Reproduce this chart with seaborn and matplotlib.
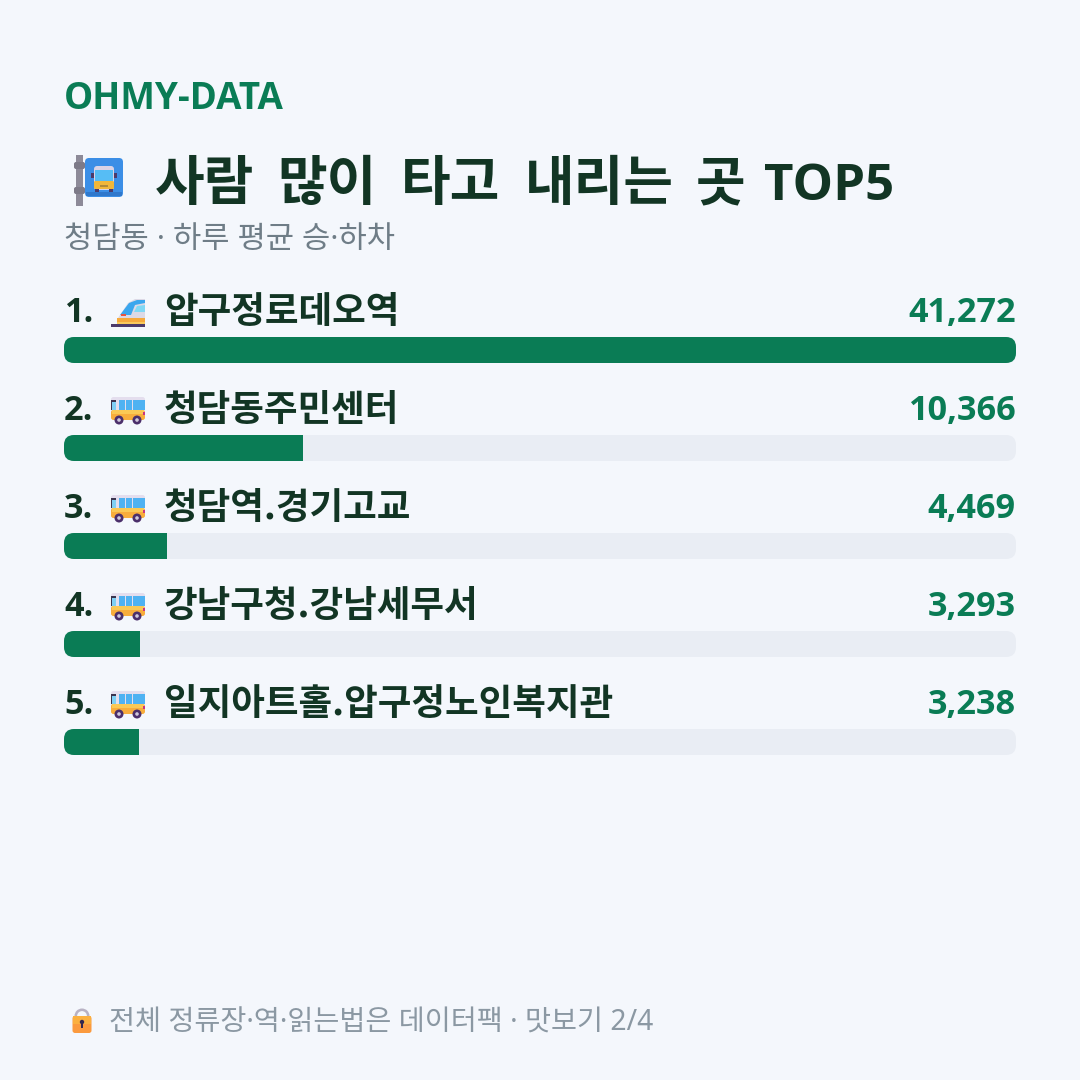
import matplotlib
matplotlib.use("Agg")
import matplotlib.pyplot as plt
from matplotlib.patches import FancyBboxPatch, Rectangle, Circle, Polygon, Wedge
import pandas as pd
import seaborn as sns

# Daily boardings and alightings per stop
ranks = ["1.", "2.", "3.", "4.", "5."]
stops = ["압구정로데오역", "청담동주민센터", "청담역.경기고교", "강남구청.강남세무서", "일지아트홀.압구정노인복지관"]
riders = [41272, 10366, 4469, 3293, 3238]
modes = ["train", "bus", "bus", "bus", "bus"]

brand = "OHMY-DATA"
title_words = ["사람", "많이", "타고", "내리는", "곳"]
title_tail = "TOP5"
subtitle = "청담동 · 하루 평균 승·하차"
footer = "전체 정류장·역·읽는법은 데이터팩 · 맛보기 2/4"

BG = "#f4f7fc"
GREEN = "#0a7c55"
DARK = "#123524"
GREY = "#6f7d87"
FOOT = "#8b98a3"
TRACK = "#e9edf4"

sns.set_theme(style="white")
plt.rcParams["font.family"] = ["Noto Sans", "Noto Sans CJK KR", "DejaVu Sans"]
HANGUL_BOLD = {"family": "Noto Sans CJK KR", "fontweight": "bold"}
LATIN_BOLD = {"family": "Open Sans", "fontweight": "bold"}

fig = plt.figure(figsize=(10.8, 10.8), dpi=100, facecolor=BG)

# Full-figure layer in pixel units for text, tracks and icons
canvas = fig.add_axes([0, 0, 1, 1], zorder=1)
canvas.set_xlim(0, 1080)
canvas.set_ylim(1080, 0)
canvas.axis("off")


def px(size):
    return size * 0.72


def box(x, y, w, h, r, color, z=3):
    p = FancyBboxPatch((x, y), w, h, boxstyle=f"round,pad=0,rounding_size={r}",
                       fc=color, ec="none", zorder=z)
    canvas.add_patch(p)
    return p


def rect(x, y, w, h, color, z=3):
    canvas.add_patch(Rectangle((x, y), w, h, fc=color, ec="none", zorder=z))


def disc(x, y, r, color, z=4):
    canvas.add_patch(Circle((x, y), r, fc=color, ec="none", zorder=z))


def stop_sign(x, y):
    # Pole with collars and a blue sign carrying a front-view bus
    rect(x + 2, y, 7, 51, "#8d8a98")
    box(x, y + 7, 11, 7, 2, "#7d7a88")
    box(x, y + 32, 11, 7, 2, "#7d7a88")
    box(x + 11, y + 3, 38, 39, 4, "#3b8ee6")
    rect(x + 12, y + 37, 36, 4, "#2f78cc", z=3)
    box(x + 20, y + 11, 20, 24, 3, "#d9d3e6", z=4)
    rect(x + 21, y + 15, 18, 11, "#56bdf5", z=5)
    box(x + 20, y + 26, 20, 8, 1.5, "#f0b73b", z=5)
    rect(x + 26, y + 30, 8, 2, "#b08a3a", z=6)
    rect(x + 21, y + 34, 4, 3, "#4b3a6b", z=4)
    rect(x + 35, y + 34, 4, 3, "#4b3a6b", z=4)
    rect(x + 17, y + 18, 3, 5, "#4b3a6b", z=4)
    rect(x + 40, y + 18, 3, 5, "#4b3a6b", z=4)


def train_icon(x, y):
    # Side view of a bullet train running to the right edge
    canvas.add_patch(Polygon([(x + 7, y + 20), (x + 17, y + 5), (x + 24, y + 1), (x + 34, y + 1),
                              (x + 34, y + 25), (x + 6, y + 25), (x + 6, y + 20)],
                             fc="#dcd9e6", ec="none", zorder=3))
    canvas.add_patch(Polygon([(x + 9, y + 17), (x + 18, y + 5), (x + 26, y + 2), (x + 34, y + 2),
                              (x + 34, y + 5), (x + 24, y + 7), (x + 20, y + 17)],
                             fc="#3aa6ee", ec="none", zorder=4))
    canvas.add_patch(Polygon([(x + 23, y + 14), (x + 26, y + 8), (x + 34, y + 7), (x + 34, y + 14)],
                             fc="#7fd8f5", ec="none", zorder=4))
    rect(x + 10, y + 16, 5, 2, "#e8553f", z=4)
    rect(x + 6, y + 20, 28, 4, "#f6a93b", z=4)
    rect(x + 6, y + 24, 28, 2, "#f9c95c", z=4)
    rect(x, y + 26, 34, 3, "#4b3a6b", z=4)


def bus_icon(x, y):
    # Side view of a yellow bus with blue windows
    box(x, y, 34, 22, 2.5, "#e4deee")
    for wx in (8, 15, 22, 28):
        rect(x + wx, y + 3, 5.5, 10, "#4fb2f2", z=4)
    rect(x, y + 3, 5, 10, "#3a3550", z=4)
    rect(x + 1, y + 5, 4, 8, "#7fd0f5", z=5)
    box(x, y + 13, 34, 10, 2.5, "#f8ad3c", z=4)
    rect(x + 1, y + 13, 32, 4, "#fbc955", z=5)
    rect(x + 32, y + 15, 2, 3, "#c9357f", z=6)
    for wx in (8, 26):
        disc(x + wx, y + 23, 4.5, "#4b2f6b", z=6)
        disc(x + wx, y + 23, 1.8, "#cfc8dc", z=7)


def lock_icon(x, y):
    # Shackle above an orange padlock body
    canvas.add_patch(Wedge((x + 10, y + 9), 7.5, 180, 360, width=2.6, fc="#b8b2c4", ec="none", zorder=3))
    box(x + 0.5, y + 9, 19, 17, 2.5, "#fb9a3e", z=4)
    rect(x + 1, y + 9, 18, 8, "#fbb03f", z=4)
    disc(x + 10, y + 15, 2.2, "#33284f", z=6)
    rect(x + 9, y + 15, 2, 6, "#33284f", z=6)


# Header block
canvas.text(64, 109, brand, color=GREEN, fontsize=px(36.8), va="baseline", **LATIN_BOLD)
stop_sign(74, 155)
for word, x in zip(title_words, (155, 277, 401, 525, 696)):
    canvas.text(x, 200, word, color=DARK, fontsize=px(54), va="baseline", **HANGUL_BOLD)
canvas.text(764, 200, title_tail, color=DARK, fontsize=px(51), va="baseline", **LATIN_BOLD)
canvas.text(64, 248.5, subtitle, color=GREY, fontsize=px(30.75), va="baseline")

# Row labels sit above each bar
ROW_STEP = 98
for i, (rank, name, value, mode) in enumerate(zip(ranks, stops, riders, modes)):
    base = 322 + i * ROW_STEP
    canvas.text(64, base, rank, color=DARK, fontsize=px(34.3), va="baseline", **LATIN_BOLD)
    canvas.text(164, base + 1, name, color=DARK, fontsize=px(36.6), va="baseline", **HANGUL_BOLD)
    canvas.text(1016, base, f"{value:,}", color=GREEN, fontsize=px(34.3), va="baseline", ha="right", **LATIN_BOLD)
    if mode == "train":
        train_icon(111, 298 + i * ROW_STEP)
    else:
        bus_icon(111, 299 + i * ROW_STEP)

# Footer
lock_icon(72, 1007)
canvas.text(109, 1031, footer, color=FOOT, fontsize=px(28.26), va="baseline")

# Bars share the value scale of the top stop and are clipped to rounded tracks
bar_ax = fig.add_axes([64 / 1080, 1 - 791 / 1080, 952 / 1080, 490 / 1080], zorder=2)
bar_ax.patch.set_alpha(0)
df = pd.DataFrame({"stop": stops, "riders": riders})
sns.barplot(data=df, x="riders", y="stop", orient="h", color=GREEN, saturation=1,
            width=26 / ROW_STEP, linewidth=0, ax=bar_ax)
bar_ax.set_xlim(0, max(riders))
bar_ax.set_ylim(len(stops) - 0.5, -0.5)
bar_ax.axis("off")

for i, bar in enumerate(bar_ax.patches):
    track = box(64, 337 + i * ROW_STEP, 952, 26, 10, TRACK, z=2)
    bar.set_clip_path(track)

fig.savefig("out.png", dpi=100, facecolor=BG)
